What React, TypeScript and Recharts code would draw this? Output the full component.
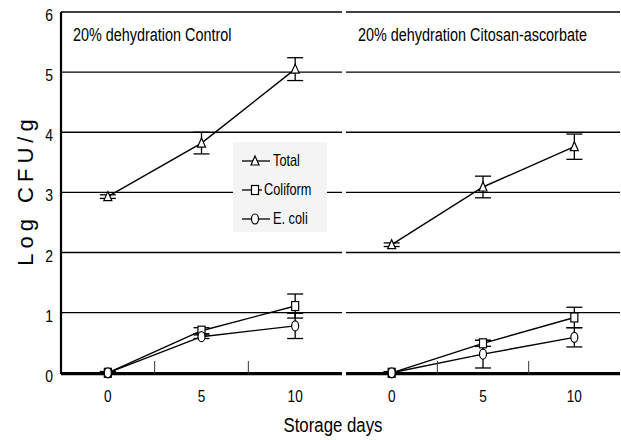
import { LineChart, Line, XAxis, YAxis, CartesianGrid, ErrorBar, Legend } from "recharts";

const days = [0, 5, 10];
const controlTotal = [2.93, 3.82, 5.05];
const controlTotalErr = [0.03, 0.18, 0.19];
const controlColiform = [0, 0.7, 1.11];
const controlColiformErr = [0.02, 0.05, 0.2];
const controlEcoli = [0, 0.6, 0.78];
const controlEcoliErr = [0.02, 0.03, 0.21];
const chitosanTotal = [2.13, 3.09, 3.76];
const chitosanTotalErr = [0.03, 0.18, 0.21];
const chitosanColiform = [0, 0.49, 0.92];
const chitosanColiformErr = [0.02, 0.05, 0.17];
const chitosanEcoli = [0, 0.31, 0.59];
const chitosanEcoliErr = [0.02, 0.23, 0.16];

const yTicks = [0, 1, 2, 3, 4, 5, 6];
const xLabelTicks = [0, 5, 10];
const minorTicks = [2.5, 7.5];
const seriesNames = ["Total", "Coliform", "E. coli"];

const SANS = "'Liberation Sans', Arial, sans-serif";

const controlData = days.map((d, i) => ({
  day: d,
  total: controlTotal[i],
  totalErr: controlTotalErr[i],
  coliform: controlColiform[i],
  coliformErr: controlColiformErr[i],
  ecoli: controlEcoli[i],
  ecoliErr: controlEcoliErr[i],
}));

const chitosanData = days.map((d, i) => ({
  day: d,
  total: chitosanTotal[i],
  totalErr: chitosanTotalErr[i],
  coliform: chitosanColiform[i],
  coliformErr: chitosanColiformErr[i],
  ecoli: chitosanEcoli[i],
  ecoliErr: chitosanEcoliErr[i],
}));

const allXTicks = [...xLabelTicks, ...minorTicks].sort((a, b) => a - b);

function Marker({ kind, cx, cy }: { kind: string; cx: number; cy: number }) {
  if (kind === "Total") {
    return (
      <path
        d={`M${cx},${cy - 5} L${cx + 4},${cy + 4} L${cx - 4},${cy + 4} Z`}
        fill="#fff"
        stroke="#000"
        strokeWidth={1.2}
      />
    );
  }
  if (kind === "Coliform") {
    return <rect x={cx - 3.5} y={cy - 4.5} width={7} height={9} fill="#fff" stroke="#000" strokeWidth={1.2} />;
  }
  return <ellipse cx={cx} cy={cy} rx={3.5} ry={5} fill="#fff" stroke="#000" strokeWidth={1.2} />;
}

const dotFor = (kind: string) => (p: any) => (
  <Marker key={`${kind}-${p.index}`} kind={kind} cx={p.cx} cy={p.cy} />
);

// x ticks: labels at 0/5/10, short inward marks at 2.5/7.5
function XTick(props: any) {
  const { x, y, payload } = props;
  if (minorTicks.includes(payload.value)) {
    return <line x1={x} y1={y} x2={x} y2={y - 13} stroke="#333" strokeWidth={1} />;
  }
  return (
    <text transform={`translate(${x},${y + 28}) scale(0.8,1)`} textAnchor="middle" fontFamily={SANS} fontSize={17} fill="#000">
      {payload.value}
    </text>
  );
}

function YTick(props: any) {
  const { x, y, payload } = props;
  return (
    <text transform={`translate(${x},${y + 9}) scale(0.82,1)`} textAnchor="end" fontFamily={SANS} fontSize={17} fill="#000">
      {payload.value}
    </text>
  );
}

const NoTick = () => <g />;

function LegendBox() {
  return (
    <div
      style={{
        background: "#f4f4f4",
        width: 94,
        height: 90,
        boxSizing: "border-box",
        paddingTop: 4,
        paddingLeft: 8,
        fontFamily: SANS,
        fontSize: 17,
        color: "#000",
      }}
    >
      {seriesNames.map((name) => (
        <div key={name} style={{ display: "flex", alignItems: "center", height: 29 }}>
          <svg width={30} height={14}>
            <line x1={1} y1={7} x2={29} y2={7} stroke="#000" strokeWidth={1.3} />
            <Marker kind={name} cx={14} cy={7} />
          </svg>
          <span style={{ marginLeft: 2, display: "inline-block", transform: "scaleX(0.75)", transformOrigin: "left center", whiteSpace: "nowrap" }}>
            {name}
          </span>
        </div>
      ))}
    </div>
  );
}

function Panel({
  data,
  width,
  showYTicks,
  showLegend,
}: {
  data: any[];
  width: number;
  showYTicks: boolean;
  showLegend: boolean;
}) {
  return (
    <LineChart width={width} height={440} data={data} margin={{ top: 12, right: 1, left: showYTicks ? 0 : 1, bottom: 0 }}>
      <CartesianGrid horizontal vertical={false} stroke="#000" strokeWidth={1.4} />
      <XAxis
        dataKey="day"
        type="number"
        domain={[-2.5, 12.5]}
        ticks={allXTicks}
        tickLine={false}
        tickSize={0}
        tickMargin={0}
        axisLine={{ stroke: "#000", strokeWidth: 2.5 }}
        tick={<XTick />}
        interval={0}
        height={66}
      />
      <YAxis
        domain={[0, 6]}
        ticks={yTicks}
        width={showYTicks ? 61 : 0}
        tickLine={false}
        tick={showYTicks ? <YTick /> : NoTick}
        axisLine={{ stroke: "#000", strokeWidth: 2.2 }}
      />
      <YAxis
        yAxisId="border"
        orientation="right"
        domain={[0, 6]}
        width={0}
        tick={NoTick}
        tickLine={false}
        axisLine={{ stroke: "#000", strokeWidth: 1.5 }}
      />
      {showLegend && (
        <Legend
          layout="vertical"
          align="center"
          verticalAlign="middle"
          content={() => <LegendBox />}
          wrapperStyle={{ left: 233, top: 142, width: 94, height: 90 }}
        />
      )}
      <Line dataKey="total" name="Total" stroke="#000" strokeWidth={1.4} dot={dotFor("Total")} isAnimationActive={false}>
        <ErrorBar dataKey="totalErr" width={8} stroke="#000" strokeWidth={1.3} direction="y" />
      </Line>
      <Line dataKey="coliform" name="Coliform" stroke="#000" strokeWidth={1.4} dot={dotFor("Coliform")} isAnimationActive={false}>
        <ErrorBar dataKey="coliformErr" width={8} stroke="#000" strokeWidth={1.3} direction="y" />
      </Line>
      <Line dataKey="ecoli" name="E. coli" stroke="#000" strokeWidth={1.4} dot={dotFor("E. coli")} isAnimationActive={false}>
        <ErrorBar dataKey="ecoliErr" width={8} stroke="#000" strokeWidth={1.3} direction="y" />
      </Line>
    </LineChart>
  );
}

export default function App() {
  const titleStyle: any = {
    position: "absolute",
    top: 25,
    fontFamily: SANS,
    fontSize: 18,
    color: "#000",
    whiteSpace: "nowrap",
    transform: "scaleX(0.8)",
    transformOrigin: "left top",
  };
  return (
    <div style={{ position: "absolute", left: 0, top: 0, width: 621, height: 440, background: "#fff", overflow: "hidden" }}>
      <div style={{ position: "absolute", left: 0, top: 0 }}>
        <Panel data={controlData} width={343} showYTicks showLegend />
      </div>
      <div style={{ position: "absolute", left: 345, top: 0 }}>
        <Panel data={chitosanData} width={276} showYTicks={false} showLegend={false} />
      </div>
      <div style={{ ...titleStyle, left: 73 }}>20% dehydration Control</div>
      <div style={{ ...titleStyle, left: 358 }}>20% dehydration Citosan-ascorbate</div>
      <div
        style={{
          position: "absolute",
          left: 26,
          top: 190,
          transform: "translate(-50%, -50%) rotate(-90deg)",
          fontFamily: SANS,
          fontSize: 22,
          letterSpacing: 5,
          whiteSpace: "nowrap",
          color: "#000",
        }}
      >
        Log CFU/g
      </div>
      <div
        style={{
          position: "absolute",
          left: 333,
          top: 425,
          transform: "translate(-50%, -50%) scaleX(0.84)",
          fontFamily: SANS,
          fontSize: 20,
          whiteSpace: "nowrap",
          color: "#000",
        }}
      >
        Storage days
      </div>
    </div>
  );
}
